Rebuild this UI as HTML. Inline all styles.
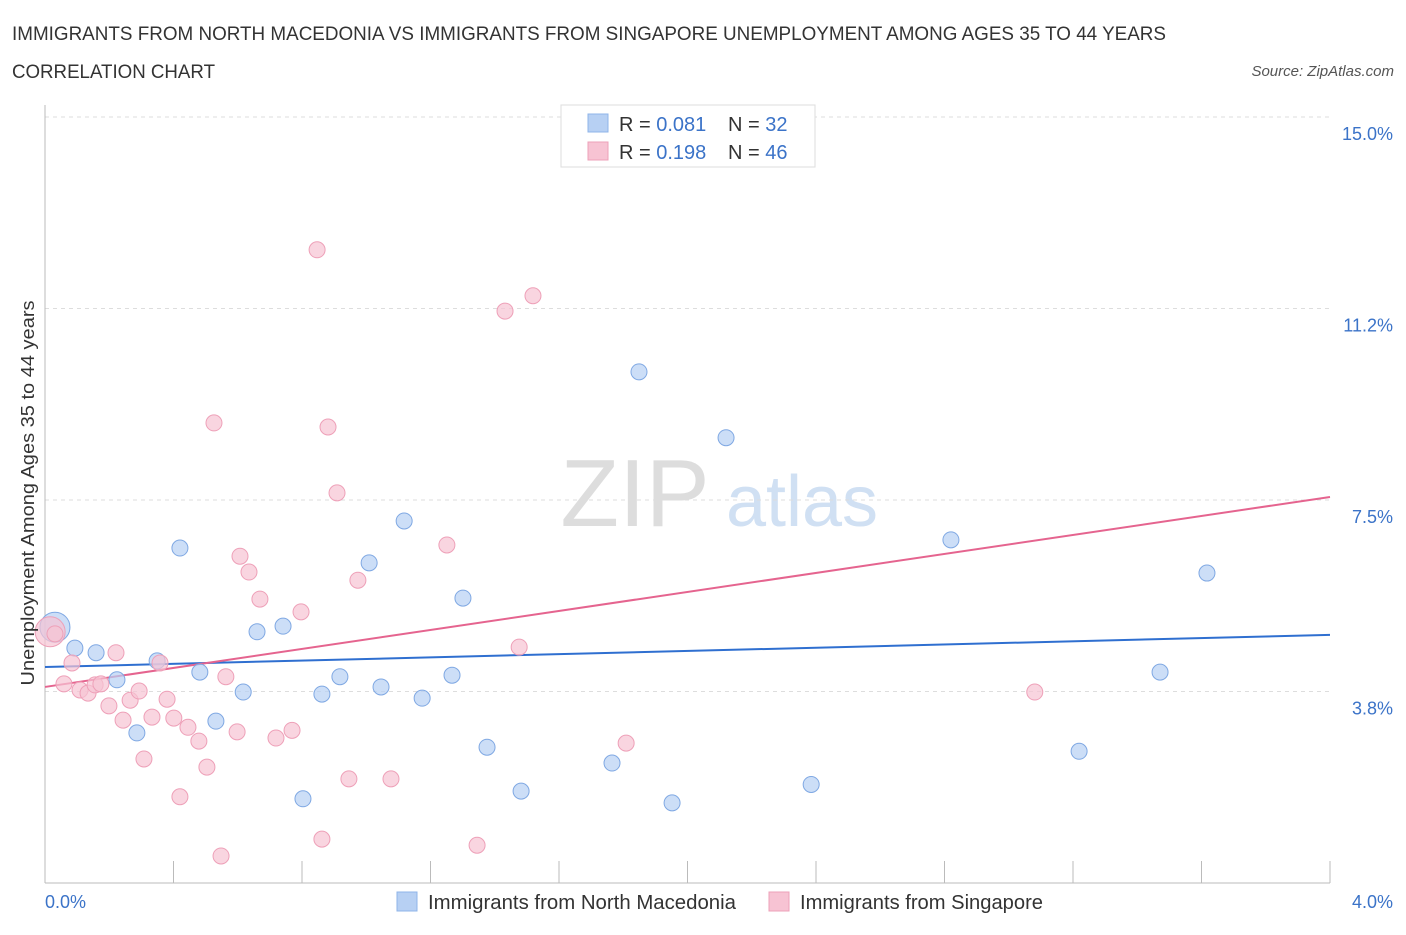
<!DOCTYPE html>
<html><head><meta charset="utf-8"><style>
body{margin:0;background:#fff;font-family:"Liberation Sans",sans-serif;}
svg text{font-family:"Liberation Sans",sans-serif;}
</style></head><body>
<svg width="1406" height="930" xmlns="http://www.w3.org/2000/svg">
<text x="12" y="40" font-size="19" fill="#333" textLength="1154" lengthAdjust="spacingAndGlyphs">IMMIGRANTS FROM NORTH MACEDONIA VS IMMIGRANTS FROM SINGAPORE UNEMPLOYMENT AMONG AGES 35 TO 44 YEARS</text>
<text x="12" y="78" font-size="19" fill="#333" textLength="203" lengthAdjust="spacingAndGlyphs">CORRELATION CHART</text>
<text x="1394" y="76" font-size="15" fill="#555" font-style="italic" text-anchor="end">Source: ZipAtlas.com</text>
<g>
<text x="635" y="526" font-size="96" fill="#ddd" font-family="Liberation Serif" text-anchor="middle">ZIP</text>
<text x="802" y="526" font-size="72" fill="#d0e0f3" text-anchor="middle">atlas</text>
</g>
<g id="grid"></g><g id="axes"></g><g id="trends"></g><g id="points"></g>
<text x="34" y="493" font-size="18" fill="#333" text-anchor="middle" textLength="385" lengthAdjust="spacingAndGlyphs" transform="rotate(-90 34 493)">Unemployment Among Ages 35 to 44 years</text>
<text x="45" y="908" font-size="18" fill="#3b73c8">0.0%</text>
<text x="1393" y="908" font-size="18" fill="#3b73c8" text-anchor="end">4.0%</text>
<g>
<rect x="561" y="105" width="254" height="62" fill="#fff" stroke="#ddd"/>
<rect x="588" y="114" width="20" height="18" fill="#b7d0f3" stroke="#8fb4e8"/>
<rect x="588" y="142" width="20" height="18" fill="#f7c3d3" stroke="#eea0b8"/>
<text x="619" y="131" font-size="20" fill="#333">R = <tspan fill="#3b73c8">0.081</tspan></text>
<text x="728" y="131" font-size="20" fill="#333">N = <tspan fill="#3b73c8">32</tspan></text>
<text x="619" y="159" font-size="20" fill="#333">R = <tspan fill="#3b73c8"> 0.198</tspan></text>
<text x="728" y="159" font-size="20" fill="#333">N = <tspan fill="#3b73c8">46</tspan></text>
</g>
<g>
<rect x="397" y="892" width="20" height="19" fill="#b7d0f3" stroke="#8fb4e8"/>
<text x="428" y="909" font-size="20" fill="#333" textLength="308" lengthAdjust="spacingAndGlyphs">Immigrants from North Macedonia</text>
<rect x="769" y="892" width="20" height="19" fill="#f7c3d3" stroke="#eea0b8"/>
<text x="800" y="909" font-size="20" fill="#333" textLength="243" lengthAdjust="spacingAndGlyphs">Immigrants from Singapore</text>
</g>
</svg>
<script>
const yTicks=[15,11.25,7.5,3.75];
const yTickLabels=["15.0%","11.2%","7.5%","3.8%"];
const xTicks=[0.4,0.8,1.2,1.6,2.0,2.4,2.8,3.2,3.6,4.0];
const blueX=[0.031,0.093,0.159,0.224,0.286,0.349,0.420,0.482,0.532,0.617,0.660,0.741,0.803,0.862,0.918,1.009,1.046,1.118,1.174,1.267,1.301,1.376,1.482,1.765,1.849,1.952,2.120,2.385,2.820,3.219,3.471,3.617];
const blueY=[5.01,4.60,4.51,3.98,2.94,4.35,6.56,4.13,3.17,3.74,4.92,5.03,1.65,3.70,4.04,6.27,3.84,7.09,3.62,4.07,5.58,2.66,1.80,2.35,10.01,1.57,8.72,1.93,6.72,2.58,4.13,6.07];
const blueR=[15,8,8,8,8,8,8,8,8,8,8,8,8,8,8,8,8,8,8,8,8,8,8,8,8,8,8,8,8,8,8,8];
const pinkX=[0.016,0.031,0.059,0.084,0.109,0.134,0.156,0.174,0.199,0.221,0.243,0.265,0.293,0.308,0.333,0.358,0.380,0.401,0.420,0.445,0.479,0.504,0.526,0.548,0.563,0.598,0.607,0.635,0.669,0.719,0.769,0.797,0.847,0.862,0.881,0.909,0.946,0.974,1.077,1.251,1.345,1.432,1.476,1.519,1.809,3.081];
const pinkY=[4.92,4.88,3.90,4.31,3.78,3.72,3.88,3.90,3.47,4.51,3.19,3.58,3.76,2.43,3.25,4.31,3.60,3.23,1.69,3.05,2.78,2.27,9.01,0.53,4.04,2.96,6.40,6.09,5.56,2.84,2.99,5.31,12.40,0.86,8.93,7.64,2.04,5.93,2.04,6.62,0.74,11.20,4.62,11.50,2.74,3.74];
const blueTrend=[4.23,4.86];
const pinkTrend=[3.84,7.56];
const X=v=>45+v/4*1285, Y=v=>117+(15-v)*51.07;
const NS="http://www.w3.org/2000/svg";
function mk(t,a,p){const e=document.createElementNS(NS,t);for(const k in a)e.setAttribute(k,a[k]);document.getElementById(p).appendChild(e);return e;}
yTicks.forEach((t,i)=>{
 const l=mk('line',{x1:45,x2:1330,y1:Y(t),y2:Y(t),stroke:'#ddd','stroke-dasharray':'4,4'},'grid');
 
 
 const tx=mk('text',{x:1393,y:Y(t)+23,'font-size':18,fill:'#3b73c8','text-anchor':'end'},'grid');
 tx.textContent=yTickLabels[i];
 
 
});
let a=mk('line',{x1:45,x2:45,y1:105,y2:Y(0),stroke:'#bbb'},'axes');


a=mk('line',{x1:45,x2:1330,y1:Y(0),y2:Y(0),stroke:'#bbb'},'axes');


xTicks.forEach(t=>{const l=mk('line',{x1:X(t),x2:X(t),y1:Y(0),y2:Y(0)-22,stroke:'#bbb'},'axes');
 
 });
let tl=mk('line',{x1:X(0),x2:X(4),y1:Y(blueTrend[0]),y2:Y(blueTrend[1]),stroke:'#2f6fd0','stroke-width':2},'trends');


tl=mk('line',{x1:X(0),x2:X(4),y1:Y(pinkTrend[0]),y2:Y(pinkTrend[1]),stroke:'#e5648f','stroke-width':2},'trends');


blueX.forEach((x,i)=>{const c=mk('circle',{cx:X(x),cy:Y(blueY[i]),r:blueR[i],fill:'#b7d0f3','fill-opacity':0.7,stroke:'#7fa8e3','stroke-width':1},'points');
 
 });
pinkX.forEach((x,i)=>{const c=mk('circle',{cx:X(x),cy:Y(pinkY[i]),r:i==0?15:8,fill:'#f7c3d3','fill-opacity':0.7,stroke:'#eea0b8','stroke-width':1},'points');
 
 });
</script>
</body></html>
